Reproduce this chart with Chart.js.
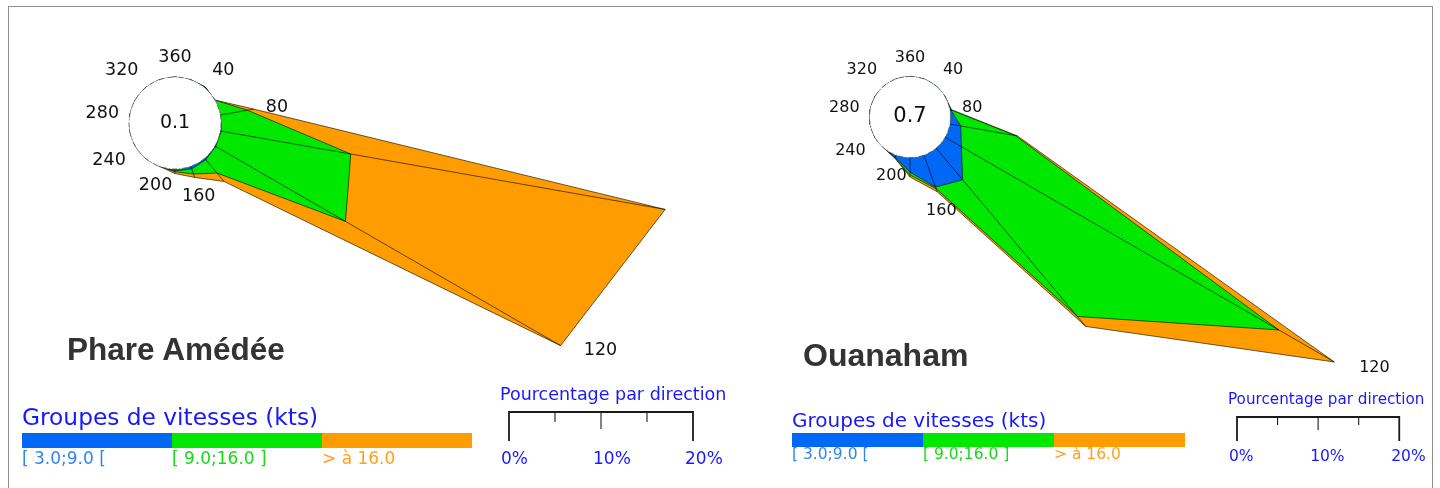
<!DOCTYPE html>
<html>
<head>
<meta charset="utf-8">
<script src="https://cdn.jsdelivr.net/npm/chart.js@4.4.1/dist/chart.umd.min.js"></script>
<style>
  html, body { margin: 0; padding: 0; background: #fff; }
  #page { position: relative; width: 1440px; height: 488px; overflow: hidden; font-family: "DejaVu Sans", sans-serif; }
  #frame { position: absolute; left: 8px; top: 6px; width: 1425px; height: 520px; border: 1.5px solid #8f8f8f; box-sizing: border-box; }
  canvas { position: absolute; }
  .title { position: absolute; font-family: "Liberation Sans", Arial, sans-serif; font-weight: bold; color: #333; white-space: nowrap; }
  .grp, .pct { position: absolute; color: #1818ff; white-space: nowrap; }
  .seg { position: absolute; }
  .blab { position: absolute; white-space: nowrap; }
</style>
</head>
<body>
<div id="page">
  <div id="frame"></div>
  <canvas id="ame" width="1200" height="1104" style="left:-425px; top:-429px;"></canvas>
  <canvas id="oua" width="1100" height="1006" style="left:360px; top:-386px;"></canvas>

  <div class="title" style="left:67px; top:334px; font-size:31.5px; line-height:31.5px;">Phare Amédée</div>
  <div class="title" style="left:803px; top:339px; font-size:32px; line-height:32px;">Ouanaham</div>

  <div class="grp" style="left:22px; top:405px; font-size:23.3px; line-height:23.3px;">Groupes de vitesses (kts)</div>
  <div class="grp" style="left:792px; top:410px; font-size:20px; line-height:20px;">Groupes de vitesses (kts)</div>
  <div class="pct" style="left:500px; top:386px; font-size:17.5px; line-height:17.5px;">Pourcentage par direction</div>
  <div class="pct" style="left:1228px; top:392px; font-size:15.2px; line-height:15.2px;">Pourcentage par direction</div>
  <div id="legL"></div>
  <div id="legR"></div>
</div>

<script>
// wind directions (degrees), one value per 20 degrees
const directions = [360, 20, 40, 60, 80, 100, 120, 140, 160, 180, 200, 220, 240, 260, 280, 300, 320, 340];
const tickDirections = [360, 40, 80, 120, 160, 200, 240, 280, 320];
const speedGroups = ['[ 3.0;9.0 [', '[ 9.0;16.0 ]', '> à 16.0'];
const scaleTicks = [0, 10, 20];

// Phare Amédée, % of time per direction and speed group
const ameBlue   = [0, 0, 0.1, 0, 0,   0.1,  0.1, 0.2, 0.3, 0.2, 0, 0, 0, 0, 0, 0, 0, 0];
const ameGreen  = [0, 0, 0,   0, 3.0, 14.3, 16.3, 1.9, 0.6, 0.1, 0, 0, 0, 0, 0, 0, 0, 0];
const ameOrange = [0, 0, 0,   0, 0.7, 34.7, 27.0, 1.2, 0.4, 0.2, 0, 0, 0, 0, 0, 0, 0, 0];
const ameCalm = 0.1;

// Ouanaham
const ouaBlue   = [0, 0, 0, 0, 0.1, 1.35, 2.3,  5.1,  4.2, 1.8,  0.3, 0, 0, 0, 0, 0, 0, 0];
const ouaGreen  = [0, 0, 0, 0, 0,   6.85, 45.2, 22.0, 0.2, 0.35, 0.1, 0, 0, 0, 0, 0, 0, 0];
const ouaOrange = [0, 0, 0, 0, 0.1, 0.25, 7.9,  1.6,  0.4, 0.25, 0,   0, 0, 0, 0, 0, 0, 0];
const ouaCalm = 0.7;

const bandColors = ['#0068f5', '#00e800', '#ff9c00'];
const bandTextColors = ['#2f86f0', '#18d818', '#ff9f1c'];

const addArr = (a, b) => a.map((v, i) => v + b[i]);

const roseDecor = {
  id: 'roseDecor',
  afterDatasetsDraw(chart, args, opts) {
    const ctx = chart.ctx;
    const r = chart.scales.r;
    const total = opts.total;
    ctx.save();

    // radial edges of each direction, from the calm circle to the top value
    ctx.strokeStyle = 'rgba(0,0,0,0.85)';
    ctx.lineWidth = 0.7;
    total.forEach((t, i) => {
      if (t <= 0) return;
      const a = r.getPointPositionForValue(i, 0);
      const b = r.getPointPositionForValue(i, t);
      ctx.beginPath();
      ctx.moveTo(a.x, a.y);
      ctx.lineTo(b.x, b.y);
      ctx.stroke();
    });

    // calm circle
    const r0 = r.getDistanceFromCenterForValue(0);
    ctx.beginPath();
    ctx.arc(r.xCenter, r.yCenter, r0, 0, Math.PI * 2);
    ctx.fillStyle = '#fff';
    ctx.fill();
    ctx.setLineDash([5, 2, 1, 2]);
    ctx.strokeStyle = '#555';
    ctx.lineWidth = 0.8;
    ctx.stroke();
    ctx.setLineDash([]);

    ctx.fillStyle = '#111';
    ctx.font = opts.calmFont;
    ctx.textAlign = 'center';
    ctx.textBaseline = 'middle';
    ctx.fillText(String(opts.calm), r.xCenter, r.yCenter);

    // direction labels, just outside each petal
    ctx.font = opts.labelFont;
    const n = chart.data.labels.length;
    chart.data.labels.forEach((lab, i) => {
      if (!tickDirections.includes(lab)) return;
      const d = r.getDistanceFromCenterForValue(Math.max(total[i], 0));
      const p = r.getPointPosition(i, d * 1.04 + opts.labelPad);
      const ang = i * 2 * Math.PI / n;
      const s = Math.sin(ang), c = Math.cos(ang);
      ctx.textAlign = s > 0.5 ? 'left' : (s < -0.5 ? 'right' : 'center');
      let base = 'middle';
      if (c > 0.5) base = 'bottom';
      else if (c < -0.6) base = 'top';
      else if (c < -0.3) base = s > 0 ? 'bottom' : 'top';
      ctx.textBaseline = base;
      ctx.fillText(String(lab), p.x, p.y);
    });

    // percentage scale bar, same scale as the rose
    const sb = opts.scaleBar;
    const maxTick = scaleTicks[scaleTicks.length - 1];
    const unit = (r.getDistanceFromCenterForValue(maxTick) - r.getDistanceFromCenterForValue(0)) / maxTick;
    ctx.strokeStyle = '#1a1a1a';
    ctx.lineWidth = 1.8;
    ctx.beginPath();
    ctx.moveTo(sb.x, sb.y + sb.endTick);
    ctx.lineTo(sb.x, sb.y);
    ctx.lineTo(sb.x + maxTick * unit, sb.y);
    ctx.lineTo(sb.x + maxTick * unit, sb.y + sb.endTick);
    ctx.stroke();
    ctx.lineWidth = 1.1;
    [5, 10, 15].forEach(v => {
      ctx.beginPath();
      ctx.moveTo(sb.x + v * unit, sb.y);
      ctx.lineTo(sb.x + v * unit, sb.y + (v === 10 ? sb.midTick : sb.minorTick));
      ctx.stroke();
    });
    ctx.fillStyle = '#1818ff';
    ctx.font = sb.font;
    ctx.textAlign = 'left';
    ctx.textBaseline = 'middle';
    scaleTicks.forEach(v => {
      ctx.fillText(v + '%', sb.x + v * unit - 8, sb.y + sb.labelDy);
    });
    ctx.restore();
  }
};

function makeRose(id, blue, green, orange, calm, min, max, deco) {
  const cumGreen = addArr(blue, green);
  const cumTotal = addArr(cumGreen, orange);
  const series = [blue, cumGreen, cumTotal];
  return new Chart(document.getElementById(id), {
    type: 'radar',
    data: {
      labels: directions,
      datasets: series.map((d, k) => ({
        label: speedGroups[k],
        data: d,
        backgroundColor: bandColors[k],
        borderColor: 'rgba(0,0,0,0.85)',
        borderWidth: 0.7,
        pointRadius: 0,
        tension: 0,
        fill: 'origin'
      }))
    },
    options: {
      responsive: false,
      animation: false,
      plugins: {
        legend: { display: false },
        tooltip: { enabled: false },
        roseDecor: Object.assign({ total: cumTotal, calm: calm }, deco)
      },
      scales: {
        r: {
          min: min,
          max: max,
          startAngle: 0,
          ticks: { display: false },
          grid: { display: false, circular: true },
          angleLines: { display: false },
          pointLabels: { display: false }
        }
      }
    },
    plugins: [roseDecor]
  });
}

// canvas offsets on the page (must match the style attributes above)
const ameOff = { left: -425, top: -429 };
const ouaOff = { left: 360, top: -386 };

makeRose('ame', ameBlue, ameGreen, ameOrange, ameCalm, -5, 55, {
  calmFont: '19px "DejaVu Sans"',
  labelFont: '17.5px "DejaVu Sans"',
  labelPad: 9,
  scaleBar: { x: 509 - ameOff.left, y: 412 - ameOff.top, endTick: 29, minorTick: 10, midTick: 17, labelDy: 48, font: '17px "DejaVu Sans"' }
});

makeRose('oua', ouaBlue, ouaGreen, ouaOrange, ouaCalm, -5, 57, {
  calmFont: '21px "DejaVu Sans"',
  labelFont: '16px "DejaVu Sans"',
  labelPad: 9,
  scaleBar: { x: 1237 - ouaOff.left, y: 417 - ouaOff.top, endTick: 24, minorTick: 8, midTick: 13, labelDy: 40, font: '15.5px "DejaVu Sans"' }
});

// speed group colour bars
function legendBar(el, x0, segW, top, h, fontSize, labelTop) {
  const box = document.getElementById(el);
  speedGroups.forEach((g, k) => {
    const seg = document.createElement('div');
    seg.className = 'seg';
    seg.style.cssText = `left:${x0 + k * segW}px; top:${top}px; width:${segW}px; height:${h}px; background:${bandColors[k]};`;
    box.appendChild(seg);
    const lab = document.createElement('div');
    lab.className = 'blab';
    lab.textContent = g;
    lab.style.cssText = `left:${x0 + k * segW}px; top:${labelTop}px; font-size:${fontSize}px; line-height:${fontSize}px; color:${bandTextColors[k]};`;
    box.appendChild(lab);
  });
}
legendBar('legL', 22, 150, 433, 15, 17, 450);
legendBar('legR', 792, 131, 433, 14, 15.5, 447);
</script>
</body>
</html>
